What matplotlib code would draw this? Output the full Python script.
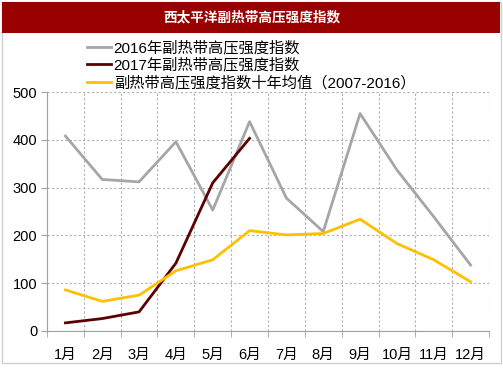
import matplotlib
matplotlib.use('Agg')
import matplotlib.pyplot as plt
from matplotlib.patches import Rectangle

plt.rcParams['font.family'] = ['Liberation Sans', 'Noto Sans CJK SC', 'DejaVu Sans']

months = ['1月', '2月', '3月', '4月', '5月', '6月', '7月', '8月', '9月', '10月', '11月', '12月']
idx_2016 = [408, 317, 312, 396, 253, 438, 278, 208, 455, 337, 239, 138]
idx_2017 = [17, 26, 40, 142, 310, 403]
idx_avg = [86, 62, 75, 126, 149, 210, 201, 204, 234, 183, 149, 103]
labels = ['2016年副热带高压强度指数', '2017年副热带高压强度指数', '副热带高压强度指数十年均值（2007-2016）']
title = '西太平洋副热带高压强度指数'

fig = plt.figure(figsize=(5.03, 3.78), dpi=100)

# 外框和标题栏
fig.patches.append(Rectangle((2 / 503, 1 - 363 / 378), 499 / 503, 361 / 378, transform=fig.transFigure,
                             fill=False, edgecolor='#d0d0d0', linewidth=1))
fig.patches.append(Rectangle((2 / 503, 1 - 33 / 378), 498 / 503, 31 / 378, transform=fig.transFigure,
                             facecolor='#990000', edgecolor='none'))
fig.text(0.5, 1 - 17.5 / 378, title, color='white', fontsize=9.8, fontweight='bold',
         ha='center', va='center', family=['Noto Sans CJK SC'])

ax = fig.add_axes([47 / 503, 47 / 378, 442 / 503, 239 / 378])
x = list(range(len(months)))
l1, = ax.plot(x, idx_2016, color='#a6a6a6', lw=2)
l2, = ax.plot(x[:len(idx_2017)], idx_2017, color='#5c0000', lw=2)
l3, = ax.plot(x, idx_avg, color='#ffc000', lw=2)

ax.set_xlim(-0.5, len(months) - 0.5)
ax.set_ylim(0, 500)
ax.set_xticks(x)
ax.set_xticklabels(months)
ax.set_xticks([i - 0.5 for i in range(len(months) + 1)], minor=True)
ax.set_yticks(range(0, 501, 100))
ax.tick_params(axis='x', which='major', length=0, labelsize=10.5, pad=12)
ax.tick_params(axis='x', which='minor', length=4, color='#a0a0a0', direction='out')
ax.tick_params(axis='y', length=4, color='#a0a0a0', labelsize=10.5, pad=3)
ax.grid(True, which='minor', axis='x', linestyle=(0, (2, 2)), color='#b0b0b0', lw=0.8)
ax.grid(True, which='major', axis='y', linestyle=(0, (2, 2)), color='#b0b0b0', lw=0.8)
ax.set_axisbelow(True)
for s in ['top', 'right']:
    ax.spines[s].set_visible(False)
for s in ['left', 'bottom']:
    ax.spines[s].set_color('#a0a0a0')

fig.legend([l1, l2, l3], labels, loc='upper left', bbox_to_anchor=(87 / 503, 1 - 41 / 378),
           frameon=False, fontsize=11, handlelength=1.6, handletextpad=0.15,
           labelspacing=0.15, borderpad=0, borderaxespad=0)

fig.savefig('out.png', dpi=100)
